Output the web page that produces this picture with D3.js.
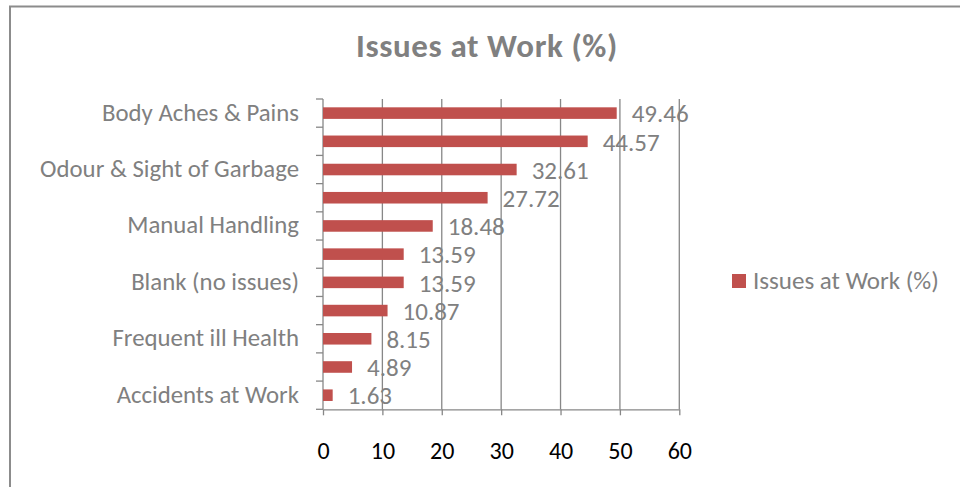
<!DOCTYPE html>
<html>
<head>
<meta charset="utf-8">
<script src="https://cdn.jsdelivr.net/npm/d3@7"></script>
<style>
  html, body { margin: 0; padding: 0; background: #fff; }
  svg { display: block; }
  text { font-family: Carlito, "Open Sans", "Liberation Sans", sans-serif; }
</style>
</head>
<body>
<svg id="chart" width="960" height="487"></svg>
<script>
// ---- data (top to bottom) ----
const categories = [
  "Body Aches & Pains",
  "(unlabelled 2)",
  "Odour & Sight of Garbage",
  "(unlabelled 4)",
  "Manual Handling",
  "(unlabelled 6)",
  "Blank (no issues)",
  "(unlabelled 8)",
  "Frequent ill Health",
  "(unlabelled 10)",
  "Accidents at Work"
];
const values = [49.46, 44.57, 32.61, 27.72, 18.48, 13.59, 13.59, 10.87, 8.15, 4.89, 1.63];
const xTicks = [0, 10, 20, 30, 40, 50, 60];
const seriesName = "Issues at Work (%)";
const chartTitle = "Issues at Work (%)";

const svg = d3.select("#chart");
const W = 960, H = 487;
const plot = { left: 323, right: 679.3, top: 99, bottom: 409.3 };
const grey = "#808080", gridCol = "#878787", barCol = "#C0504D";
const FS = 25;

// outer chart border (right and bottom cut off in the reference)
svg.append("rect").attr("x", 10).attr("y", 6.5).attr("width", W + 20).attr("height", H + 20)
  .attr("fill", "#fff").attr("stroke", "#8c8c8c").attr("stroke-width", 2);

const x = d3.scaleLinear().domain([0, 60]).range([plot.left, plot.right]);
const y = d3.scaleBand().domain(d3.range(categories.length)).range([plot.top, plot.bottom]).paddingInner(0).paddingOuter(0);

// title
svg.append("text").attr("x", 487).attr("y", 56.5).attr("text-anchor", "middle")
  .attr("font-size", 33).attr("font-weight", "bold").attr("letter-spacing", "0.6px")
  .attr("fill", grey).text(chartTitle);

// vertical gridlines
svg.append("g").selectAll("line").data(xTicks.filter(d => d > 0)).join("line")
  .attr("x1", d => x(d)).attr("x2", d => x(d))
  .attr("y1", plot.top).attr("y2", plot.bottom)
  .attr("stroke", gridCol).attr("stroke-width", 1.3);

// x axis
const xAxis = svg.append("g").attr("transform", `translate(0,${plot.bottom})`)
  .call(d3.axisBottom(x).tickValues(xTicks).tickSize(6).tickPadding(27).tickSizeOuter(0));
xAxis.select(".domain").attr("stroke", gridCol).attr("stroke-width", 1.3);
xAxis.selectAll(".tick line").attr("stroke", gridCol).attr("stroke-width", 1.3);
xAxis.selectAll(".tick text").attr("font-size", 24).attr("fill", "#000")
  .style("font-family", 'Carlito, "Open Sans", "Liberation Sans", sans-serif');

// y axis line + category boundary ticks
svg.append("line").attr("x1", plot.left).attr("x2", plot.left).attr("y1", plot.top).attr("y2", plot.bottom)
  .attr("stroke", gridCol).attr("stroke-width", 1.3);
const bounds = d3.range(categories.length + 1).map(i => plot.top + i * y.step());
svg.append("g").selectAll("line").data(bounds).join("line")
  .attr("x1", plot.left - 7).attr("x2", plot.left)
  .attr("y1", d => d).attr("y2", d => d)
  .attr("stroke", gridCol).attr("stroke-width", 1.3);

// category labels (every other one, as in the reference)
svg.append("g").selectAll("text").data(categories.map((c, i) => ({ c, i })).filter(d => d.i % 2 === 0)).join("text")
  .attr("x", 299).attr("y", d => y(d.i) + y.bandwidth() / 2).attr("dy", "0.3em")
  .attr("text-anchor", "end").attr("font-size", 24.8).attr("fill", grey).text(d => d.c);

// bars
const barH = y.bandwidth() * 0.41;
svg.append("g").selectAll("rect").data(values).join("rect")
  .attr("x", x(0)).attr("y", (d, i) => y(i) + (y.bandwidth() - barH) / 2)
  .attr("width", d => x(d) - x(0)).attr("height", barH).attr("fill", barCol);

// value labels
svg.append("g").selectAll("text").data(values).join("text")
  .attr("x", d => x(d) + 15).attr("y", (d, i) => y(i) + y.bandwidth() / 2 + 1).attr("dy", "0.33em")
  .attr("font-size", FS).attr("fill", grey).text(d => d.toFixed(2));

// legend
const lg = svg.append("g").attr("transform", "translate(732,274)");
lg.append("rect").attr("width", 14).attr("height", 14).attr("fill", barCol);
lg.append("text").attr("x", 21).attr("y", 7).attr("dy", "0.33em").attr("font-size", FS).attr("fill", grey).text(seriesName);
</script>
</body>
</html>
